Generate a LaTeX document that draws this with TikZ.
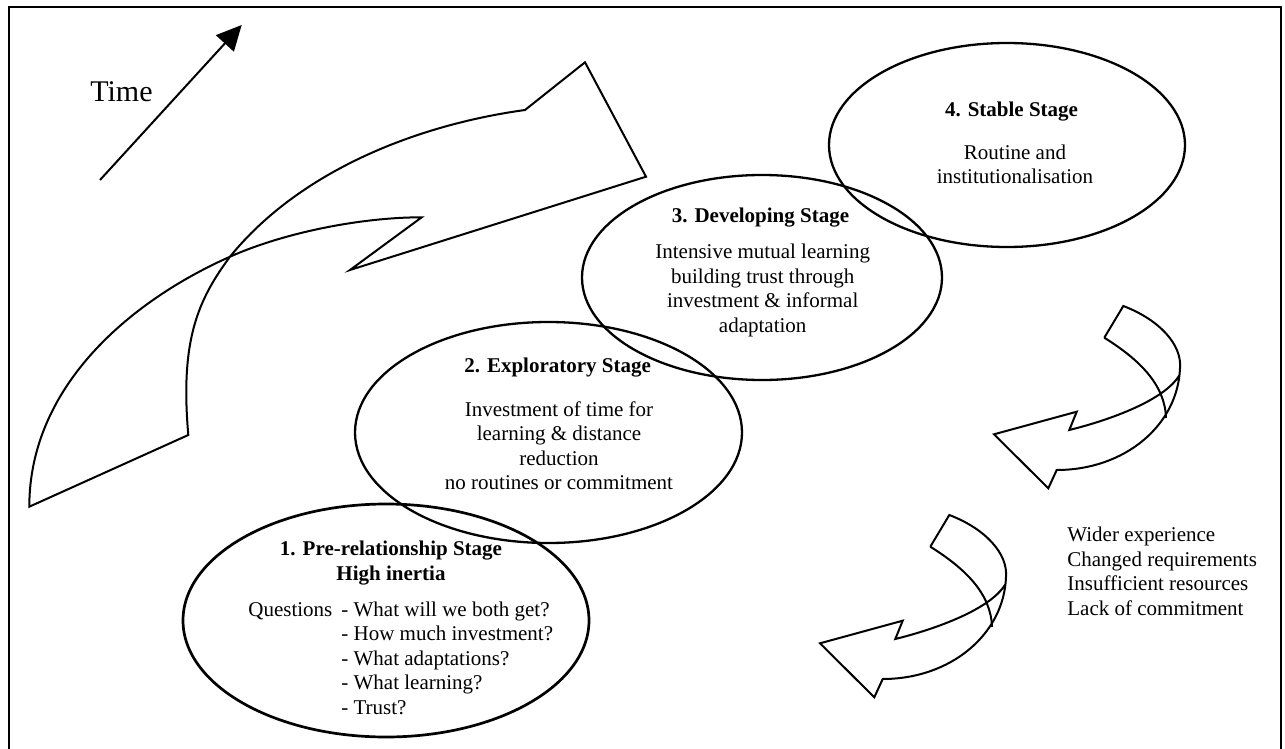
\documentclass[tikz,border=0pt]{standalone}
\usepackage{fontspec}
\setmainfont{Liberation Serif}
\usetikzlibrary{arrows.meta,shapes.geometric}
\begin{document}
\begin{tikzpicture}[x=0.5pt,y=-0.5pt,
  frameline/.style={line width=1pt},
  arrowline/.style={line width=1pt, line join=miter},
  stage/.style={draw, ellipse, inner sep=0pt, line width=1.15pt},
  txt/.style={inner sep=0pt, font=\fontsize{10.5}{12.25}\selectfont, align=center},
  ttl/.style={inner sep=0pt, font=\fontsize{10.5}{12.25}\selectfont\bfseries, align=center},
  twist/.pic={
    \draw[arrowline] (1104.3,337.7) -- (1123.3,306)
      .. controls (1160,320) and (1182,345) .. (1180,368)
      .. controls (1178,425) and (1125,470) .. (1056.7,470)
      -- (1048.3,488.3) -- (994,434.3) -- (1076.7,411.7) -- (1069.3,430)
      .. controls (1110,420) and (1165,400) .. (1179.5,375);
    \draw[arrowline] (1104.3,337.7) .. controls (1140,360) and (1165,385) .. (1166,418);
  }]
\useasboundingbox (0,0) rectangle (1285,749);
% frame
\draw[frameline] (9,749) -- (9,7) -- (1281,7) -- (1281,749);

% time arrow
\coordinate (ts) at (100,180);
\coordinate (te) at (241.7,25);
\draw[line width=1pt, -{Triangle[length=12.5pt,width=12pt]}] (ts) -- (te);
\node[inner sep=0pt, font=\fontsize{15}{18}\selectfont] (time) at (121.5,92) {Time};

% big twisted arrow
\draw[arrowline] (29.3,506.7) -- (188.3,435)
  .. controls (180,340) and (198,300) .. (230,256.7)
  .. controls (299.3,171.3) and (416,125) .. (525,110)
  -- (585,62.3) -- (646,176.7) -- (350,270) -- (421.7,217.3)
  .. controls (361.7,217.3) and (284.8,232.3) .. (230,256.7)
  .. controls (129.5,301.4) and (29.3,386.7) .. (29.3,506.7) -- cycle;

% stage ellipses
\node[stage, minimum width=178pt, minimum height=102pt] (e4) at (1007,145) {};
\node[stage, minimum width=180pt, minimum height=102.5pt] (e3) at (762,277.5) {};
\node[stage, minimum width=193.5pt, minimum height=110.5pt] (e2) at (548.5,432.5) {};
\node[stage, line width=1.35pt, minimum width=203pt, minimum height=116.5pt] (e1) at (386,620.5) {};

% stage texts
\node[ttl] (t4) at (1011.5,112) {4. Stable Stage};
\node[txt] (b4) at (1015,164.5) {Routine and\\institutionalisation};

\node[ttl] (t3) at (760.5,218) {3. Developing Stage};
\node[txt] (b3) at (762.7,290.5) {Intensive mutual learning\\building trust through\\investment \& informal\\adaptation};

\node[ttl] (t2) at (557.6,368) {2. Exploratory Stage};
\node[txt] (b2) at (559,445.5) {Investment of time for\\learning \& distance\\reduction\\no routines or commitment};

\node[ttl] (t1) at (391,563) {1. Pre-relationship Stage\\High inertia};
\node[txt, anchor=west] (b1) at (248,660.5) {\begin{tabular}{@{}l@{\hspace{4.5pt}}l@{}}
Questions & - What will we both get?\\
 & - How much investment?\\
 & - What adaptations?\\
 & - What learning?\\
 & - Trust?
\end{tabular}};

% twisted return arrows
\pic at (0,0) {twist};
\pic at (-174,209) {twist};

\node[txt, align=left, anchor=west] (why) at (1067,571.5) {Wider experience\\Changed requirements\\Insufficient resources\\Lack of commitment};
\end{tikzpicture}
\end{document}
